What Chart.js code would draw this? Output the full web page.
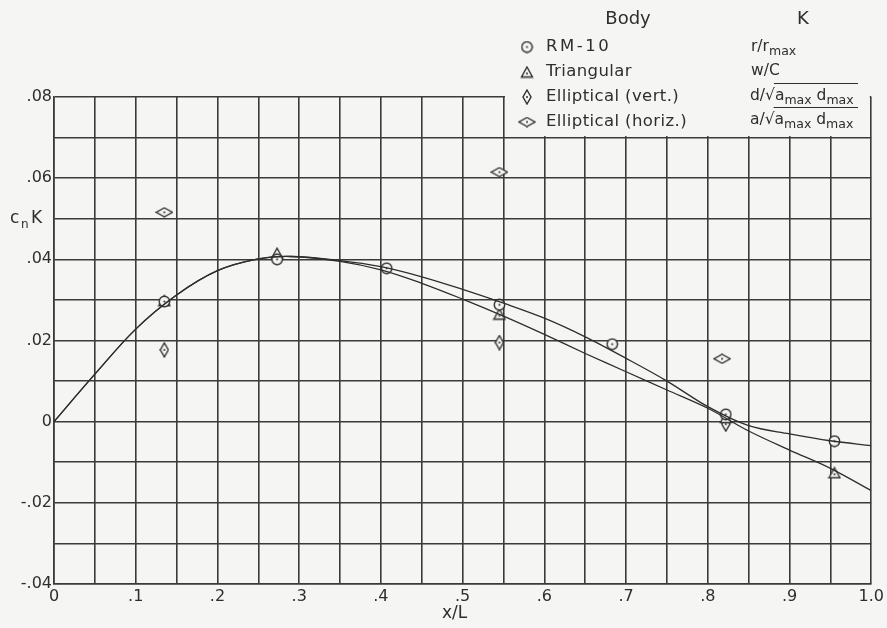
<!DOCTYPE html>
<html>
<head>
<meta charset="utf-8">
<script src="https://cdn.jsdelivr.net/npm/chart.js@4.4.1/dist/chart.umd.min.js"></script>
<style>
  html, body { margin: 0; padding: 0; background: #f5f5f3; }
  #wrap { width: 887px; height: 628px; position: relative; }
</style>
</head>
<body>
<div id="wrap"><canvas id="chart" width="887" height="628"></canvas></div>
<script>
// faired curves (x/L, cn K)
const curveX    = [0, 0.05, 0.10, 0.15, 0.20, 0.25, 0.29, 0.35, 0.40, 0.45, 0.50, 0.55, 0.60, 0.65, 0.70, 0.75, 0.80, 0.85, 0.90, 0.95, 1.00];
const rm10Curve = [0, 0.0117, 0.0228, 0.0312, 0.0372, 0.0401, 0.0407, 0.0397, 0.0382, 0.0357, 0.0326, 0.0292, 0.0255, 0.0209, 0.0156, 0.0100, 0.0037, -0.0010, -0.0030, -0.0047, -0.0059];
const triCurve  = [0, 0.0117, 0.0228, 0.0312, 0.0372, 0.0401, 0.0407, 0.0395, 0.0374, 0.0341, 0.0302, 0.0260, 0.0215, 0.0168, 0.0123, 0.0078, 0.0033, -0.0023, -0.0070, -0.0115, -0.0170];

// measured points
const rm10X = [0.135, 0.273, 0.407, 0.545, 0.683, 0.822, 0.955];
const rm10Y = [0.0296, 0.0400, 0.0378, 0.0288, 0.0191, 0.0018, -0.0048];
const triX = [0.135, 0.273, 0.545, 0.822, 0.955];
const triY = [0.0298, 0.0415, 0.0265, 0.0010, -0.0126];
const ellVertX = [0.135, 0.545, 0.822];
const ellVertY = [0.0177, 0.0195, -0.0006];
const ellHorizX = [0.135, 0.545, 0.8175];
const ellHorizY = [0.0516, 0.0615, 0.0155];

const xTickLabels = ["0", ".1", ".2", ".3", ".4", ".5", ".6", ".7", ".8", ".9", "1.0"];
const yTickLabels = ["-.04", "-.02", "0", ".02", ".04", ".06", ".08"];

const INK = "#2e2e2e";
const BG = "#f5f5f3";
const FONT = "'DejaVu Sans', sans-serif";

function pts(xs, ys) { return xs.map((x, i) => ({ x, y: ys[i] })); }

function marker(w, h, draw) {
  const c = document.createElement("canvas");
  c.width = w; c.height = h;
  const g = c.getContext("2d");
  g.strokeStyle = INK; g.fillStyle = INK; g.lineWidth = 1.4;
  draw(g, w, h);
  return c;
}
function dot(g, w, h) { g.beginPath(); g.arc(w / 2, h / 2, 1, 0, Math.PI * 2); g.fill(); }
function diamond(g, w, h) {
  g.beginPath();
  g.moveTo(w / 2, 1); g.lineTo(w - 1, h / 2); g.lineTo(w / 2, h - 1); g.lineTo(1, h / 2);
  g.closePath(); g.fillStyle = BG; g.fill(); g.fillStyle = INK; g.stroke();
  dot(g, w, h);
}

const circleImg = marker(13, 13, (g, w, h) => {
  g.beginPath(); g.arc(w / 2, h / 2, 5.2, 0, Math.PI * 2);
  g.fillStyle = BG; g.fill(); g.fillStyle = INK; g.stroke(); dot(g, w, h);
});
const triImg = marker(14, 13, (g, w, h) => {
  g.beginPath(); g.moveTo(w / 2, 1.5); g.lineTo(w - 1.5, h - 1.5); g.lineTo(1.5, h - 1.5);
  g.closePath(); g.fillStyle = BG; g.fill(); g.fillStyle = INK; g.stroke(); dot(g, w, h + 3);
});
const vertImg = marker(10, 16, diamond);
const horizImg = marker(18, 11, diamond);

function runs(ctx, x, y, parts) {
  parts.forEach((p) => {
    ctx.font = (p.sub ? "12.5px " : "15.5px ") + FONT;
    ctx.fillText(p.t, x, p.sub ? y + 5 : y);
    x += ctx.measureText(p.t).width;
  });
  return x;
}

const paperPlugin = {
  id: "paper",
  beforeDraw(chart) {
    const ctx = chart.ctx;
    ctx.save(); ctx.fillStyle = BG; ctx.fillRect(0, 0, chart.width, chart.height); ctx.restore();
  },
  beforeDatasetsDraw(chart) {
    const { ctx, scales: { x, y } } = chart;
    ctx.save();
    // legend block sits over the upper right of the grid
    const l = x.getPixelForValue(0.55) + 1.5, r = x.getPixelForValue(1.0) - 1.5;
    ctx.fillStyle = BG;
    ctx.fillRect(l, 0, r - l, y.getPixelForValue(0.07) - 1.5);

    ctx.fillStyle = INK; ctx.strokeStyle = INK; ctx.lineWidth = 1.1;
    ctx.textBaseline = "middle";
    ctx.font = "18px " + FONT;
    ctx.textAlign = "center";
    ctx.fillText("Body", 628, 19);
    ctx.fillText("K", 803, 19);
    ctx.textAlign = "left";

    const rows = [
      [circleImg, "RM-10", 47],
      [triImg, "Triangular", 72],
      [vertImg, "Elliptical (vert.)", 97],
      [horizImg, "Elliptical (horiz.)", 122],
    ];
    rows.forEach(([img, label, ry]) => {
      ctx.drawImage(img, 527 - img.width / 2, ry - img.height / 2);
      ctx.font = "16.5px " + FONT;
      ctx.letterSpacing = label === "RM-10" ? "2.5px" : "0.4px";
      ctx.fillText(label, 546, ry);
    });
    ctx.letterSpacing = "0px";

    runs(ctx, 751, 47, [{ t: "r/r" }, { t: "max", sub: true }]);
    runs(ctx, 751, 71, [{ t: "w/C" }]);
    [["d", 96], ["a", 120]].forEach(([s, ry]) => {
      let cx = runs(ctx, 750, ry, [{ t: s + "/" }]);
      cx = runs(ctx, cx, ry, [{ t: "\u221A" }]);
      const sx = cx - 1;
      cx = runs(ctx, cx, ry, [{ t: "a" }, { t: "max", sub: true }, { t: " d" }, { t: "max", sub: true }]);
      ctx.beginPath(); ctx.moveTo(sx, ry - 12.5); ctx.lineTo(858, ry - 12.5); ctx.stroke();
    });

    // axis titles
    ctx.font = "17px " + FONT;
    ctx.fillText("x/L", 442, 614);
    ctx.font = "17px " + FONT;
    ctx.fillText("c", 10, 219);
    ctx.font = "12px " + FONT;
    ctx.fillText("n", 21, 225);
    ctx.font = "17px " + FONT;
    ctx.fillText("K", 31, 219);
    ctx.restore();
  },
};

const lineDs = (data) => ({
  type: "line", data, borderColor: INK, borderWidth: 1.3, pointRadius: 0,
  tension: 0.35, fill: false,
});
const ptDs = (data, img) => ({
  data, pointStyle: img, pointRadius: 6, showLine: false,
});

new Chart(document.getElementById("chart"), {
  type: "scatter",
  data: {
    datasets: [
      lineDs(pts(curveX, rm10Curve)),
      lineDs(pts(curveX, triCurve)),
      ptDs(pts(rm10X, rm10Y), circleImg),
      ptDs(pts(triX, triY), triImg),
      ptDs(pts(ellVertX, ellVertY), vertImg),
      ptDs(pts(ellHorizX, ellHorizY), horizImg),
    ],
  },
  options: {
    responsive: false,
    animation: false,
    layout: { padding: { top: 97, right: 13, left: 0, bottom: 0 } },
    plugins: { legend: { display: false }, tooltip: { enabled: false } },
    scales: {
      x: {
        type: "linear", min: 0, max: 1.0,
        afterFit: (s) => { s.height = 44; },
        afterBuildTicks: (s) => { s.ticks = Array.from({ length: 21 }, (_, i) => ({ value: i * 0.05 })); },
        ticks: {
          autoSkip: false, maxRotation: 0, padding: 3, color: INK,
          font: { family: FONT, size: 16 },
          callback: (v) => {
            const k = Math.round(v * 20);
            return k % 2 === 0 ? xTickLabels[k / 2] : "";
          },
        },
        grid: { color: "#3a3a3a", lineWidth: 1.6, drawTicks: false },
        border: { color: "#3a3a3a", width: 1.6 },
      },
      y: {
        type: "linear", min: -0.04, max: 0.08,
        afterFit: (s) => { s.width = 54; },
        afterBuildTicks: (s) => { s.ticks = Array.from({ length: 13 }, (_, i) => ({ value: -0.04 + i * 0.01 })); },
        ticks: {
          autoSkip: false, padding: 2, color: INK,
          font: { family: FONT, size: 16 },
          callback: (v) => {
            const k = Math.round(v * 100) + 4;
            return k % 2 === 0 ? yTickLabels[k / 2] : "";
          },
        },
        grid: { color: "#3a3a3a", lineWidth: 1.6, drawTicks: false },
        border: { color: "#3a3a3a", width: 1.6 },
      },
    },
  },
  plugins: [paperPlugin],
});
</script>
</body>
</html>
